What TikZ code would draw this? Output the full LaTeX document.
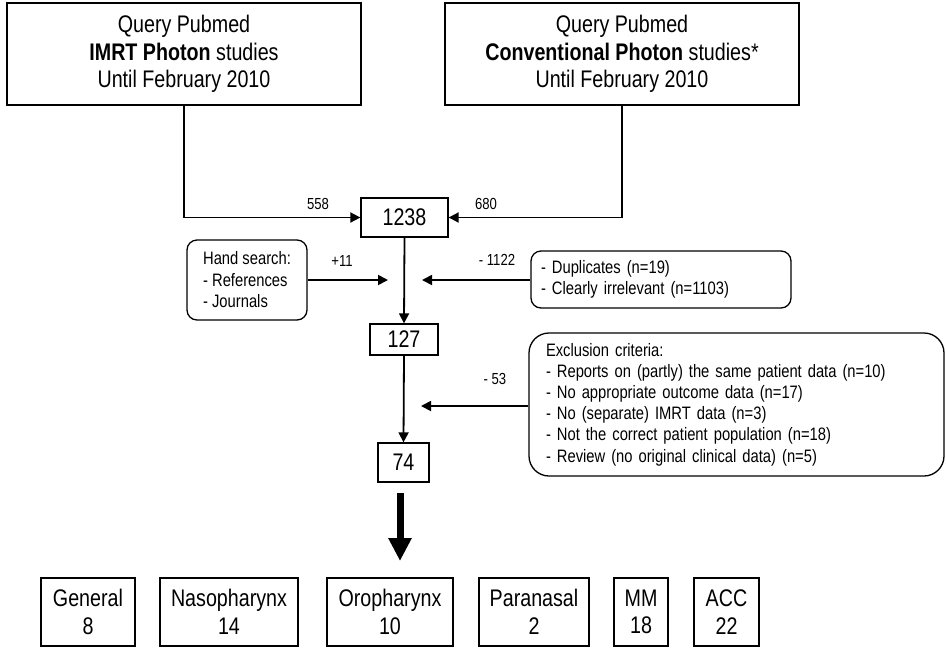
\documentclass[tikz,border=0pt]{standalone}
\usepackage{fontspec}
\setmainfont[FakeStretch=0.82]{Liberation Sans}
\usetikzlibrary{arrows.meta}
\begin{document}
\begin{tikzpicture}[x=1pt,y=-1pt,
  box/.style={draw,line width=1.3pt,inner sep=0pt,align=center,font=\fontsize{24}{27.5}\selectfont},
  rbox/.style={draw,line width=1.3pt,rounded corners=10pt,inner ysep=0pt,align=left,font=\fontsize{18}{21}\selectfont},
  conn/.style={line width=1.8pt,-{Triangle[length=10pt,width=10pt]}},
  lab/.style={inner sep=0pt,font=\fontsize{16}{18}\selectfont}]
\useasboundingbox (0,0) rectangle (946,649);
% top boxes
\node[box,minimum width=354,minimum height=102] (q1) at (184,54) {Query Pubmed\\\textbf{IMRT Photon} studies\\Until February 2010};
\node[box,minimum width=354,minimum height=102] (q2) at (622,54) {Query Pubmed\\\textbf{Conventional Photon} studies*\\Until February 2010};
\node[box,minimum width=87,minimum height=39] (n1238) at (404.5,217.5) {1238};
\draw[conn] (q1.south) |- (n1238.west);
\draw[conn] (q2.south) |- (n1238.east);
\node[lab] (l558) at (318,204) {558};
\node[lab] (l680) at (486,204) {680};
% hand search and duplicates
\node[rbox,minimum width=120,minimum height=80,inner xsep=15pt,font=\fontsize{18}{21.5}\selectfont] (hand) at (247,280) {Hand search:\\- References\\- Journals};
\node[rbox,minimum height=57,text width=240pt,inner xsep=10pt,font=\fontsize{18}{20.5}\selectfont] (dup) at (661,279.5) {- Duplicates (n=19)\\- Clearly irrelevant (n=1103)};
\coordinate (hin) at (388,280);
\coordinate (din) at (422,280);
\draw[conn] (hand.east) -- (hin);
\draw[conn] (dup.west |- din) -- (din);
\node[lab] (l11) at (342,261) {+11};
\node[lab] (l1122) at (497,260) {- 1122};
% 127
\node[box,minimum width=68,minimum height=31] (n127) at (404,339.5) {127};
\draw[conn] (n1238.south) -- (n127.north);
% exclusion
\node[rbox,rounded corners=20pt,minimum height=143,text width=381pt,inner xsep=17pt,font=\fontsize{18}{21.2}\selectfont] (excl) at (736.5,404.5) {Exclusion criteria:\\- Reports on (partly) the same patient data (n=10)\\- No appropriate outcome data (n=17)\\- No (separate) IMRT data (n=3)\\- Not the correct patient population (n=18)\\- Review (no original clinical data) (n=5)};
\coordinate (ein) at (421,406);
\draw[conn] (excl.west |- ein) -- (ein);
\node[lab] (l53) at (495,379) {- 53};
% 74
\node[box,minimum width=51,minimum height=39] (n74) at (403.5,462.5) {74};
\draw[conn] (n127.south) -- (n74.north);
% thick arrow
\coordinate (ta) at (400,493);
\coordinate (tb) at (400,561);
\draw[line width=7pt,-{Triangle[length=23pt,width=22pt]}] (ta) -- (tb);
% bottom boxes
\node[box,minimum width=94,minimum height=68] (gen) at (88,612) {General\\8};
\node[box,minimum width=138,minimum height=68] (naso) at (229,612) {Nasopharynx\\14};
\node[box,minimum width=126,minimum height=68] (oro) at (390,612) {Oropharynx\\10};
\node[box,minimum width=110,minimum height=68] (para) at (534,612) {Paranasal\\2};
\node[box,minimum width=54,minimum height=68] (mm) at (641,612) {MM\\18};
\node[box,minimum width=65,minimum height=68] (acc) at (726.5,612) {ACC\\22};
\end{tikzpicture}
\end{document}
